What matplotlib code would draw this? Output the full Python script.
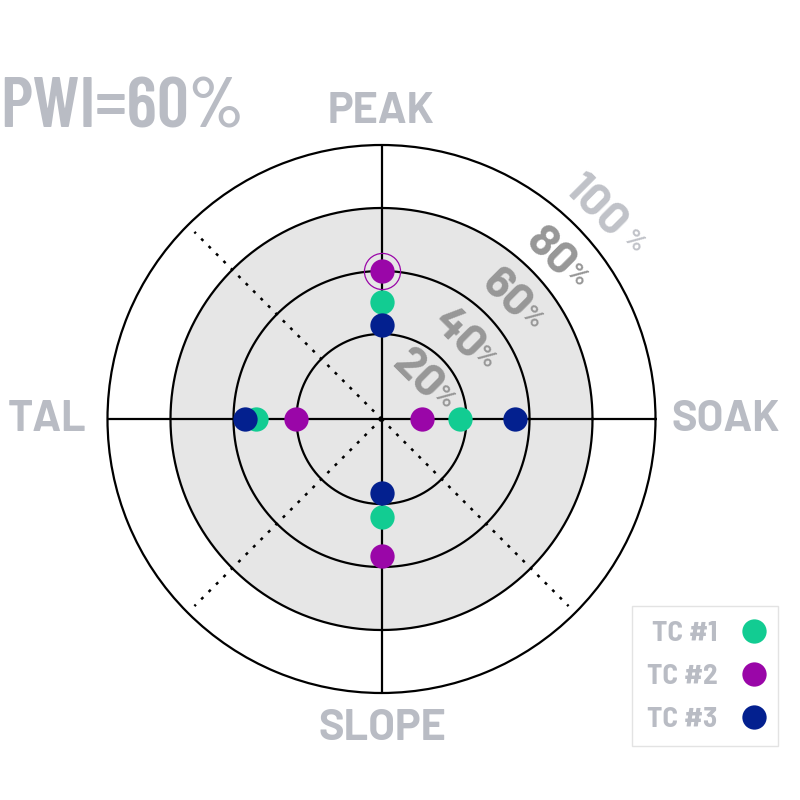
import numpy as np
import matplotlib
matplotlib.use("Agg")
import matplotlib.pyplot as plt

# ---------------- data ----------------
axis_labels = ["SOAK", "PEAK", "TAL", "SLOPE"]
axis_angles_deg = [0, 90, 180, 270]
series_names = ["TC #1", "TC #2", "TC #3"]
tc1 = [38, 50, 53, 44]
tc2 = [26, 60, 40, 56.5]
tc3 = [55.5, 43, 56.5, 36.5]
ring_values = [20, 40, 60, 80, 100]
drawn_rings = [40, 60, 80]
pwi_value = 60
pwi_axis = "PEAK"
pwi_series = 1

# ---------------- style ----------------
colors = ["#12cc92", "#9a06a8", "#03208f"]
gray_txt = "#b9bcc4"
ring_lbl_col = "#979797"
COND = ["Barlow Condensed", "DejaVu Sans"]
SEMI = ["Barlow Semi Condensed", "DejaVu Sans"]
DIN = ["Barlow", "DejaVu Sans"]
R_MIN, R_MAX = 13, 100
W, H = 800, 800
cx, cy, rpx = 381.5, 419, 274

fig = plt.figure(figsize=(8, 8), dpi=100)
fig.patch.set_facecolor("white")
ax = fig.add_axes([(cx - rpx) / W, (H - cy - rpx) / H, 2 * rpx / W, 2 * rpx / H],
                  projection="polar")
ax.set_ylim(R_MIN, R_MAX)
ax.set_xticks([])
ax.set_yticks([])
ax.grid(False)
ax.spines["polar"].set_linewidth(1.6)
ax.spines["polar"].set_color("black")
ax.set_facecolor("white")

th = np.linspace(0, 2 * np.pi, 721)
ax.fill_between(th, R_MIN, 80, color="#e6e6e6", zorder=0, lw=0)
for rv in drawn_rings:
    ax.plot(th, np.full_like(th, rv), color="black", lw=1.6, zorder=1)

for a in axis_angles_deg:
    ax.plot([np.radians(a)] * 2, [R_MIN, R_MAX], color="black", lw=1.6, zorder=1)
for a in [135, 225, 315]:
    ax.plot([np.radians(a)] * 2, [R_MIN, 97], color="black", lw=1.8,
            linestyle=(0, (1.2, 3.0)), zorder=1)

# ring labels: (radial offset, angle in degrees)
offs = {20: (10.9, 51), 40: (9.1, 47.7), 60: (8.6, 45), 80: (8.2, 44.7), 100: (8.6, 44.8)}
for rv in ring_values:
    dr, ang = offs[rv]
    col = "#c0c2c8" if rv == 100 else ring_lbl_col
    theta = np.radians(ang)
    ax.text(theta, rv + dr, str(rv), rotation=-45, rotation_mode="anchor",
            ha="center", va="center", fontsize=33, fontweight="bold",
            color=col, family=DIN, zorder=3)
    along = 52 if rv == 100 else 35
    perp = 2
    dx = (along / np.sqrt(2) + perp / np.sqrt(2)) * 0.72
    dy = (-along / np.sqrt(2) + perp / np.sqrt(2)) * 0.72
    ax.annotate("%", xy=(theta, rv + dr), xytext=(dx, dy), textcoords="offset points",
                rotation=-45, rotation_mode="anchor", ha="center", va="center",
                fontsize=18, fontweight="bold", color=col, family=DIN,
                zorder=3, annotation_clip=False)

# data points
thetas = np.radians(axis_angles_deg)
handles = {}
for k in [2, 0, 1]:
    vals = [tc1, tc2, tc3][k]
    ln, = ax.plot(thetas, vals, linestyle="none", marker="o", ms=17.5,
                  mfc=colors[k], mec="none", zorder=5 + k, label=series_names[k],
                  clip_on=False)
    handles[k] = ln

pi = axis_labels.index(pwi_axis)
ax.plot([thetas[pi]], [[tc1, tc2, tc3][pwi_series][pi]], linestyle="none", marker="o",
        ms=26, mfc="none", mec=colors[1], mew=0.9, zorder=9, clip_on=False)

# axis labels
label_pos = {"PEAK": (381, 123), "TAL": (47, 431), "SOAK": (726, 431), "SLOPE": (382, 740)}
for name in axis_labels:
    x, y = label_pos[name]
    fig.text(x / W, 1 - y / H, name, ha="center", va="baseline", fontsize=31,
             fontweight="bold", color=gray_txt, family=DIN)

# title
fig.text(0, 1 - 128 / H, f"PWI={pwi_value}%", ha="left", va="baseline",
         fontsize=51, fontweight=600, color=gray_txt, family=COND)

# legend
leg = ax.legend([handles[k] for k in range(3)], series_names, loc="upper left",
                bbox_to_anchor=(632 / W, 1 - 606 / H), bbox_transform=fig.transFigure,
                borderaxespad=0, markerfirst=False, frameon=True, fancybox=False,
                borderpad=0.5, labelspacing=0.6, handlelength=0.7, handletextpad=0.9,
                prop={"family": SEMI, "weight": "bold", "size": 21})
leg.get_frame().set_edgecolor("#dcdcdc")
leg.get_frame().set_linewidth(1.0)
for t in leg.get_texts():
    t.set_color(gray_txt)

fig.savefig("out.png", dpi=100, facecolor="white")
